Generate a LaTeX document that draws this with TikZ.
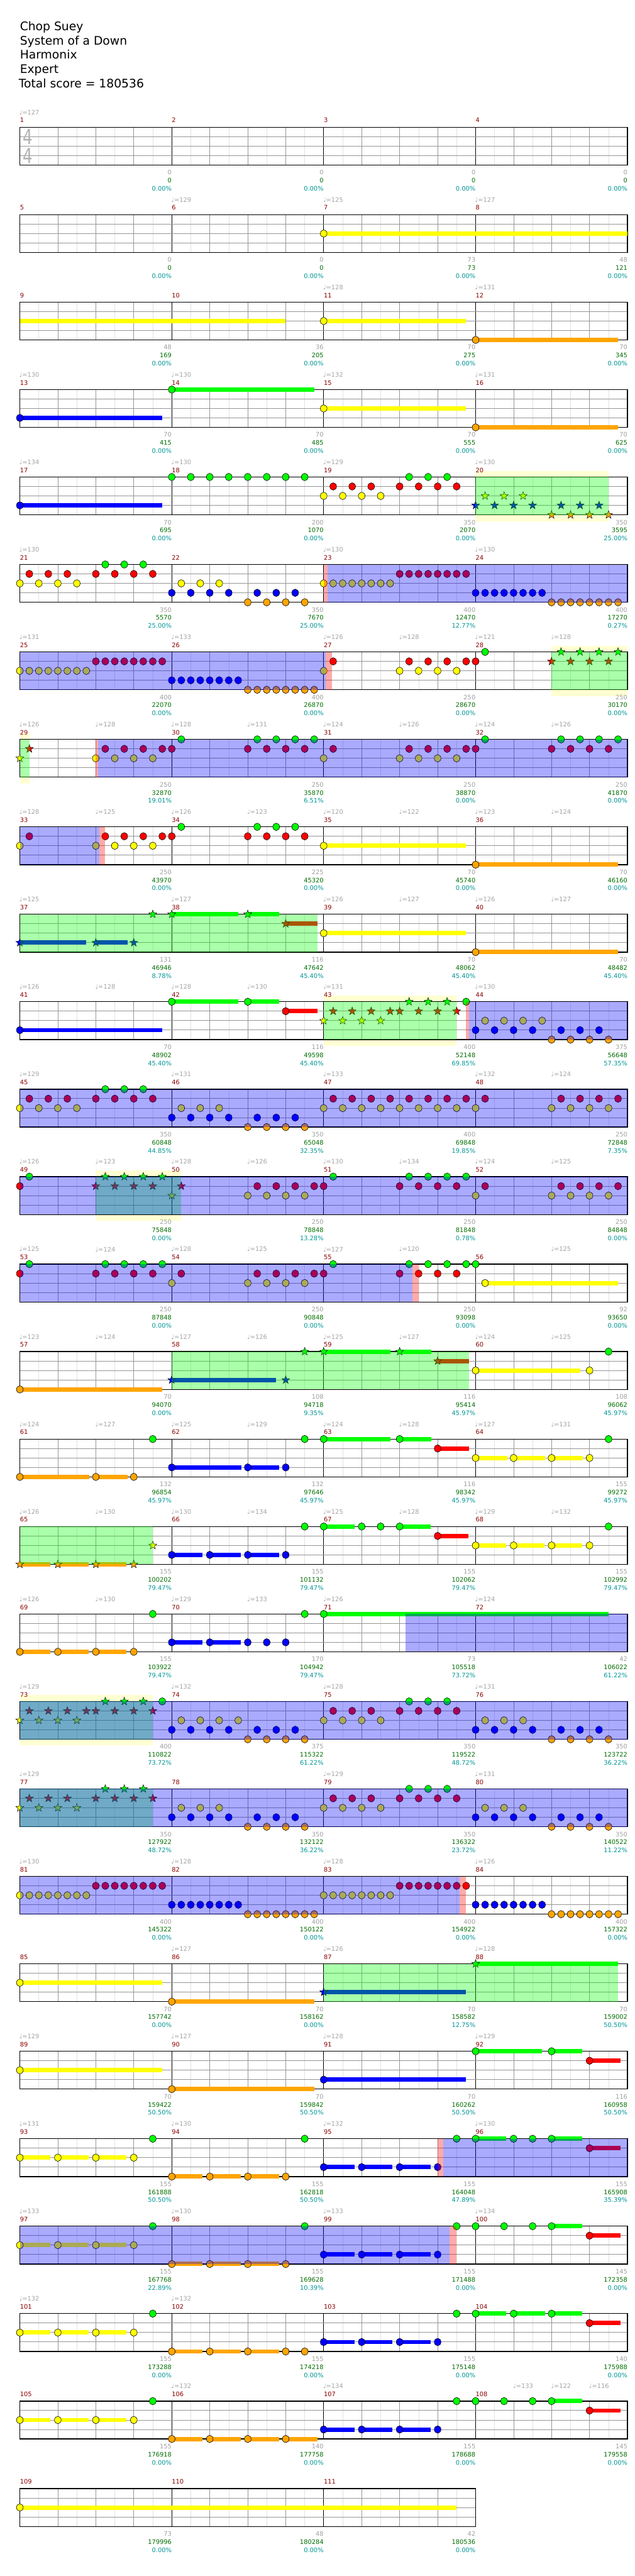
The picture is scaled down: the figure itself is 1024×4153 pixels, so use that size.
\documentclass[tikz,border=0pt]{standalone}
\usepackage{fontspec}
\setmainfont{DejaVu Sans}
\definecolor{lane0}{RGB}{0,255,0}
\definecolor{lane1}{RGB}{255,0,0}
\definecolor{lane2}{RGB}{255,255,0}
\definecolor{lane3}{RGB}{0,0,255}
\definecolor{lane4}{RGB}{255,165,0}
\definecolor{mred}{RGB}{140,0,0}
\definecolor{scgrey}{RGB}{160,160,160}
\definecolor{scgreen}{RGB}{0,110,0}
\definecolor{scteal}{RGB}{0,150,150}
\definecolor{tgrey}{RGB}{165,165,165}
\definecolor{spyellow}{RGB}{255,255,210}
\definecolor{gridlight}{RGB}{225,225,225}
\definecolor{gridmid}{RGB}{150,150,150}
\newcount\nodeid
\newcommand\nextid{\global\advance\nodeid by 1 }
\tikzset{
 row/.style={xshift=32pt,yshift=-#1pt,x=61.25pt,y=-15.25pt},
 lbl/.style={font=\fontsize{10}{12}\selectfont, inner sep=0pt},
 tempo/.style={lbl, text=tgrey, anchor=west, xshift=-1pt, yshift=24pt},
 mnum/.style={lbl, text=mred, anchor=west, yshift=11pt},
 sgrey/.style={lbl, text=scgrey, anchor=east, yshift=-12pt},
 sgreen/.style={lbl, text=scgreen, anchor=east, yshift=-25pt},
 steal/.style={lbl, text=scteal, anchor=east, yshift=-38pt},
 title/.style={anchor=base west, inner sep=0pt, font=\fontsize{19}{22}\selectfont},
 timesig/.style={inner sep=0pt, text=gray!60, font=\fontsize{33}{33}\selectfont, xscale=0.75},
 eighthline/.style={draw=gridlight, line width=0.6pt},
 beatline/.style={draw=gridmid, line width=0.7pt},
 measline/.style={draw=black, line width=0.7pt},
 laneline/.style={draw=gridmid, line width=1pt},
 border/.style={draw=black, line width=1.3pt},
 notehead/.style={draw=black, line width=0.6pt},
}
\newcommand\staff[1]{%
 \fill[white] (0,0) rectangle (#1,4);
 \pgfmathtruncatemacro\nb{#1}%
 \foreach \i in {1,...,\nb}{\draw[eighthline] (\i-0.5,0) -- (\i-0.5,4);}
 \foreach \i in {1,...,\nb}{\draw[beatline] (\i,0) -- (\i,4);}
 \pgfmathtruncatemacro\nm{#1/4-1}%
 \foreach \i in {1,...,\nm}{\draw[measline] (4*\i,0) -- (4*\i,4);}
 \foreach \j in {1,2,3}{\draw[laneline] (0,\j) -- (#1,\j);}
 \draw[border] (0,0) rectangle (#1,4);}
\newcommand\nts[2]{\foreach \bb in {#2}{\path[notehead,fill=lane#1] (\bb,#1) ellipse [x radius=5.4pt,y radius=6pt];}}
\newcommand\nrun[4]{\foreach \ii in {1,...,#4}{\path[notehead,fill=lane#1] ({#2+#3*(\ii-1)},#1) ellipse [x radius=5.4pt,y radius=6pt];}}
\newcommand\sus[3]{\fill[lane#1] (#2,#1-0.23) rectangle (#3,#1+0.23);}
\newcommand\sts[2]{\foreach \bb in {#2}{\path[draw=black,line width=0.5pt,fill=lane#1] (\bb,#1) +(90:6.8pt) -- +(126:2.8pt) -- +(162:6.8pt) -- +(198:2.8pt) -- +(234:6.8pt) -- +(270:2.8pt) -- +(306:6.8pt) -- +(342:2.8pt) -- +(18:6.8pt) -- +(54:2.8pt) -- cycle;}}
\newcommand\odov[2]{\fill[lane3,fill opacity=0.333] (#1,0) rectangle (#2,4);}
\newcommand\spov[2]{\fill[lane0,fill opacity=0.333] (#1,0) rectangle (#2,4);}
\newcommand\pinkov[2]{\fill[lane1,fill opacity=0.333] (#1,0) rectangle (#2,4);}
\newcommand\spbox[2]{\fill[spyellow] (#1,-0.66) rectangle (#2,4.66);}
\newcommand\tp[2]{\nextid\node[tempo] (T\the\nodeid) at (#1,0) {♩=#2};}
\newcommand\mz[5]{%
 \nextid\node[mnum] (M\the\nodeid) at (4*#1,0) {#2};
 \nextid\node[sgrey] (G\the\nodeid) at (4*#1+4,4) {#3};
 \nextid\node[sgreen] (C\the\nodeid) at (4*#1+4,4) {#4};
 \nextid\node[steal] (P\the\nodeid) at (4*#1+4,4) {#5};}
\begin{document}
\begin{tikzpicture}[x=1pt,y=-1pt]
\fill[white] (0,0) rectangle (1024,4153);
\useasboundingbox (0,0) rectangle (1024,4153);
\node[title] (t1) at (32,49) {Chop Suey};
\node[title] (t2) at (32,72) {System of a Down};
\node[title] (t3) at (32,95) {Harmonix};
\node[title] (t4) at (32,118) {Expert};
\node[title] (t5) at (30,141) {Total score = 180536};
% row 1
\begin{scope}[row=205]
\staff{16}
\node[timesig] (ts1) at (0.21,1) {4};
\node[timesig] (ts2) at (0.21,3) {4};
\tp{0}{127}
\mz{0}{1}{0}{0}{0.00\%}\mz{1}{2}{0}{0}{0.00\%}\mz{2}{3}{0}{0}{0.00\%}\mz{3}{4}{0}{0}{0.00\%}
\end{scope}
% row 2
\begin{scope}[row=346]
\staff{16}
\sus{2}{8}{16}\nts{2}{8}
\tp{4}{129}\tp{8}{125}\tp{12}{127}
\mz{0}{5}{0}{0}{0.00\%}\mz{1}{6}{0}{0}{0.00\%}\mz{2}{7}{73}{73}{0.00\%}\mz{3}{8}{48}{121}{0.00\%}
\end{scope}
% row 3
\begin{scope}[row=487]
\staff{16}
\sus{2}{0}{7}\sus{2}{8}{11.75}\sus{4}{12}{15.75}\nts{2}{8}\nts{4}{12}
\tp{8}{128}\tp{12}{131}
\mz{0}{9}{48}{169}{0.00\%}\mz{1}{10}{36}{205}{0.00\%}\mz{2}{11}{70}{275}{0.00\%}\mz{3}{12}{70}{345}{0.00\%}
\end{scope}
% row 4
\begin{scope}[row=628]
\staff{16}
\sus{3}{0}{3.75}\sus{0}{4}{7.75}\sus{2}{8}{11.75}\sus{4}{12}{15.75}
\nts{3}{0}\nts{0}{4}\nts{2}{8}\nts{4}{12}
\tp{0}{130}\tp{4}{130}\tp{8}{132}\tp{12}{131}
\mz{0}{13}{70}{415}{0.00\%}\mz{1}{14}{70}{485}{0.00\%}\mz{2}{15}{70}{555}{0.00\%}\mz{3}{16}{70}{625}{0.00\%}
\end{scope}
% row 5
\begin{scope}[row=769]
\spbox{12}{15.5}
\staff{16}
\sus{3}{0}{3.75}\nts{3}{0}
\nrun{0}{4}{0.5}{8}
\nts{1}{8.25,8.75,9.25,10,10.5,11,11.5}\nrun{2}{8}{0.5}{4}\nts{0}{10.25,10.75,11.25}
\sts{2}{12.25,12.75,13.25}\sts{3}{12,12.5,13,13.5,14.25,14.75,15.25}\sts{4}{14,14.5,15,15.5}
\spov{12}{15.5}
\tp{0}{134}\tp{4}{130}\tp{8}{129}\tp{12}{130}
\mz{0}{17}{70}{695}{0.00\%}\mz{1}{18}{200}{1070}{0.00\%}\mz{2}{19}{350}{2070}{0.00\%}\mz{3}{20}{350}{3595}{25.00\%}
\end{scope}
% row 6
\begin{scope}[row=910]
\staff{16}
\nrun{2}{0}{0.5}{4}\nts{1}{0.25,0.75,1.25}\nrun{1}{2}{0.5}{4}\nts{0}{2.25,2.75,3.25}
\nts{2}{4.25,4.75,5.25}\nrun{3}{4}{0.5}{4}\nts{3}{6.25,6.75,7.25}\nrun{4}{6}{0.5}{4}
\nrun{2}{8}{0.25}{8}\nrun{1}{10}{0.25}{8}\nrun{3}{12}{0.25}{8}\nrun{4}{14}{0.25}{8}
\pinkov{8}{8.1}\odov{8.1}{16}
\tp{0}{130}\tp{8}{130}\tp{12}{130}
\mz{0}{21}{350}{5570}{25.00\%}\mz{1}{22}{350}{7670}{25.00\%}\mz{2}{23}{400}{12470}{12.77\%}\mz{3}{24}{400}{17270}{0.27\%}
\end{scope}
% row 7
\begin{scope}[row=1051]
\spbox{14}{16}
\staff{16}
\nrun{2}{0}{0.25}{8}\nrun{1}{2}{0.25}{8}\nrun{3}{4}{0.25}{8}\nrun{4}{6}{0.25}{8}
\nts{2}{8}\nts{1}{8.25}\nts{1}{10.25,10.75,11.25,11.75,12}\nrun{2}{10}{0.5}{4}\nts{0}{12.25}
\sts{0}{14.25,14.75,15.25,15.75}\sts{1}{14,14.5,15,15.5}
\odov{0}{8.05}\pinkov{8.05}{8.22}\spov{14}{16}
\tp{0}{131}\tp{4}{133}\tp{8}{126}\tp{10}{128}\tp{12}{121}\tp{14}{128}
\mz{0}{25}{400}{22070}{0.00\%}\mz{1}{26}{400}{26870}{0.00\%}\mz{2}{27}{250}{28670}{0.00\%}\mz{3}{28}{250}{30170}{0.00\%}
\end{scope}
% row 8
\begin{scope}[row=1192]
\spbox{0}{0.25}
\staff{16}
\sts{2}{0}\sts{1}{0.25}
\nts{2}{2}\nts{1}{2.25,2.75,3.25,3.75,4}\nts{2}{2.5,3,3.5}\nts{0}{4.25}
\nrun{1}{6}{0.5}{4}\nts{0}{6.25,6.75,7.25,7.75}
\nts{2}{8}\nts{1}{8.25}\nts{1}{10.25,10.75,11.25,11.75,12}\nrun{2}{10}{0.5}{4}\nts{0}{12.25}
\nrun{1}{14}{0.5}{4}\nts{0}{14.25,14.75,15.25,15.75}
\spov{0}{0.25}\pinkov{2}{2.06}\odov{2.06}{16}
\tp{0}{126}\tp{2}{128}\tp{4}{128}\tp{6}{131}\tp{8}{124}\tp{10}{126}\tp{12}{124}\tp{14}{126}
\mz{0}{29}{250}{32870}{19.01\%}\mz{1}{30}{250}{35870}{6.51\%}\mz{2}{31}{250}{38870}{0.00\%}\mz{3}{32}{250}{41870}{0.00\%}
\end{scope}
% row 9
\begin{scope}[row=1333]
\staff{16}
\nts{2}{0}\nts{1}{0.25}\nts{2}{2}\nts{1}{2.25,2.75,3.25,3.75,4}\nts{2}{2.5,3,3.5}\nts{0}{4.25}
\nrun{1}{6}{0.5}{4}\nts{0}{6.25,6.75,7.25}
\sus{2}{8}{11.75}\nts{2}{8}\sus{4}{12}{15.75}\nts{4}{12}
\odov{0}{2.09}\pinkov{2.09}{2.24}
\tp{0}{128}\tp{2}{125}\tp{4}{126}\tp{6}{123}\tp{8}{120}\tp{10}{122}\tp{12}{123}\tp{14}{124}
\mz{0}{33}{250}{43970}{0.00\%}\mz{1}{34}{225}{45320}{0.00\%}\mz{2}{35}{70}{45740}{0.00\%}\mz{3}{36}{70}{46160}{0.00\%}
\end{scope}
% row 10
\begin{scope}[row=1474]
\staff{16}
\sus{3}{0}{1.75}\sus{3}{2}{2.83}\sus{0}{4}{5.75}\sus{0}{6}{6.83}\sus{1}{7}{7.83}
\sts{3}{0,2,3}\sts{0}{3.5,4,6}\sts{1}{7}
\sus{2}{8}{11.75}\nts{2}{8}\sus{4}{12}{15.75}\nts{4}{12}
\spov{0}{7.83}
\tp{0}{125}\tp{4}{127}\tp{8}{126}\tp{10}{127}\tp{12}{126}\tp{14}{127}
\mz{0}{37}{131}{46946}{8.78\%}\mz{1}{38}{116}{47642}{45.40\%}\mz{2}{39}{70}{48062}{45.40\%}\mz{3}{40}{70}{48482}{45.40\%}
\end{scope}
% row 11
\begin{scope}[row=1615]
\spbox{8}{11.5}
\staff{16}
\sus{3}{0}{3.75}\nts{3}{0}\sus{0}{4}{5.75}\sus{0}{6}{6.83}\nts{0}{4,6}\sus{1}{7}{7.83}\nts{1}{7}
\sts{2}{8,8.5,9,9.5}\sts{1}{8.25,8.75,9.25,9.75,10,10.5,11,11.5}\sts{0}{10.25,10.75,11.25}
\nts{0}{11.75}\nts{2}{12.25,12.75,13.25,13.75}\nts{3}{12,12.5,13,13.5,14.25,14.75,15.25}\nrun{4}{14}{0.5}{4}
\spov{8}{11.5}\pinkov{11.75}{11.83}\odov{11.83}{16}
\tp{0}{126}\tp{2}{128}\tp{4}{128}\tp{6}{130}\tp{8}{131}\tp{12}{130}
\mz{0}{41}{70}{48902}{45.40\%}\mz{1}{42}{116}{49598}{45.40\%}\mz{2}{43}{400}{52148}{69.85\%}\mz{3}{44}{375}{56648}{57.35\%}
\end{scope}
% row 12
\begin{scope}[row=1756]
\staff{16}
\nrun{2}{0}{0.5}{4}\nts{1}{0.25,0.75,1.25}\nrun{1}{2}{0.5}{4}\nts{0}{2.25,2.75,3.25}
\nts{2}{4.25,4.75,5.25}\nrun{3}{4}{0.5}{4}\nts{3}{6.25,6.75,7.25}\nrun{4}{6}{0.5}{4}
\nrun{1}{8.25}{0.5}{9}\nrun{2}{8}{0.5}{9}\nrun{1}{14.25}{0.5}{4}\nrun{2}{14}{0.5}{4}
\odov{0}{16}
\tp{0}{129}\tp{4}{131}\tp{8}{133}\tp{12}{132}\tp{14}{124}
\mz{0}{45}{350}{60848}{44.85\%}\mz{1}{46}{350}{65048}{32.35\%}\mz{2}{47}{400}{69848}{19.85\%}\mz{3}{48}{250}{72848}{7.35\%}
\end{scope}
% row 13
\begin{scope}[row=1897]
\spbox{2}{4.25}
\staff{16}
\nts{1}{0}\nts{0}{0.25}
\sts{0}{2.25,2.75,3.25,3.75}\sts{1}{2,2.5,3,3.5,4.25}\sts{2}{4}
\nts{1}{6.25,6.75,7.25,7.75,8}\nrun{2}{6}{0.5}{4}\nts{0}{8.25}
\nts{1}{10,10.5,11,11.5,12.25}\nts{0}{10.25,10.75,11.25,11.75}\nts{2}{12}
\nrun{1}{14.25}{0.5}{4}\nrun{2}{14}{0.5}{4}
\spov{2}{4.25}\odov{0}{16}
\tp{0}{126}\tp{2}{123}\tp{4}{128}\tp{6}{126}\tp{8}{130}\tp{10}{134}\tp{12}{124}\tp{14}{125}
\mz{0}{49}{250}{75848}{0.00\%}\mz{1}{50}{250}{78848}{13.28\%}\mz{2}{51}{250}{81848}{0.78\%}\mz{3}{52}{250}{84848}{0.00\%}
\end{scope}
% row 14
\begin{scope}[row=2038]
\staff{16}
\nts{1}{0}\nts{0}{0.25}\nts{0}{2.25,2.75,3.25,3.75}\nts{1}{2,2.5,3,3.5,4.25}\nts{2}{4}
\nts{1}{6.25,6.75,7.25,7.75,8}\nrun{2}{6}{0.5}{4}\nts{0}{8.25}
\nts{1}{10}\nts{0}{10.25}\nts{1}{10.5,11,11.5}\nts{0}{10.75,11.25,11.75,12}
\sus{2}{12.25}{15.75}\nts{2}{12.25}
\odov{0}{10.33}\pinkov{10.33}{10.5}
\tp{0}{125}\tp{2}{124}\tp{4}{128}\tp{6}{125}\tp{8}{127}\tp{10}{120}\tp{14}{125}
\mz{0}{53}{250}{87848}{0.00\%}\mz{1}{54}{250}{90848}{0.00\%}\mz{2}{55}{250}{93098}{0.00\%}\mz{3}{56}{92}{93650}{0.00\%}
\end{scope}
% row 15
\begin{scope}[row=2179]
\staff{16}
\sus{4}{0}{3.75}\nts{4}{0}
\sus{3}{4}{6.75}\sts{3}{4,7}\sts{0}{7.5}
\sus{0}{8}{9.75}\sus{0}{10}{10.83}\sts{0}{8,10}\sus{1}{11}{11.83}\sts{1}{11}
\sus{2}{12}{14.75}\nts{2}{12,15}\nts{0}{15.5}
\spov{4}{11.83}
\tp{0}{123}\tp{2}{124}\tp{4}{127}\tp{6}{126}\tp{8}{125}\tp{10}{127}\tp{12}{124}\tp{14}{125}
\mz{0}{57}{70}{94070}{0.00\%}\mz{1}{58}{108}{94718}{9.35\%}\mz{2}{59}{116}{95414}{45.97\%}\mz{3}{60}{108}{96062}{45.97\%}
\end{scope}
% row 16
\begin{scope}[row=2320]
\staff{16}
\sus{4}{0}{1.83}\sus{4}{2}{2.83}\nts{4}{0,2,3}\nts{0}{3.5}
\sus{3}{4}{5.83}\sus{3}{6}{6.83}\nts{3}{4,6,7}\nts{0}{7.5}
\sus{0}{8}{9.75}\sus{0}{10}{10.83}\nts{0}{8,10}\sus{1}{11}{11.83}\nts{1}{11}
\sus{2}{12}{12.83}\sus{2}{13}{13.83}\sus{2}{14}{14.83}\nts{2}{12,13,14,15}\nts{0}{15.5}
\tp{0}{124}\tp{2}{127}\tp{4}{125}\tp{6}{129}\tp{8}{124}\tp{10}{128}\tp{12}{127}\tp{14}{131}
\mz{0}{61}{132}{96854}{45.97\%}\mz{1}{62}{132}{97646}{45.97\%}\mz{2}{63}{116}{98342}{45.97\%}\mz{3}{64}{155}{99272}{45.97\%}
\end{scope}
% row 17
\begin{scope}[row=2461]
\staff{16}
\sus{4}{0}{0.81}\sus{4}{1}{1.81}\sus{4}{2}{2.81}\sts{4}{0,1,2,3}\sts{2}{3.5}
\sus{3}{4}{4.81}\sus{3}{5}{5.81}\sus{3}{6}{6.82}\nts{3}{4,5,6,7}\nts{0}{7.5}
\sus{0}{8}{8.81}\sus{0}{10}{10.81}\nts{0}{8,9,9.5,10}\sus{1}{11}{11.81}\nts{1}{11}
\sus{2}{12}{12.81}\sus{2}{13}{13.81}\sus{2}{14}{14.81}\nts{2}{12,13,14,15}\nts{0}{15.5}
\spov{0}{3.5}
\tp{0}{126}\tp{2}{130}\tp{4}{130}\tp{6}{134}\tp{8}{125}\tp{10}{128}\tp{12}{129}\tp{14}{132}
\mz{0}{65}{155}{100202}{79.47\%}\mz{1}{66}{155}{101132}{79.47\%}\mz{2}{67}{155}{102062}{79.47\%}\mz{3}{68}{155}{102992}{79.47\%}
\end{scope}
% row 18
\begin{scope}[row=2602]
\staff{16}
\sus{4}{0}{0.81}\sus{4}{1}{1.81}\sus{4}{2}{2.81}\nts{4}{0,1,2,3}\nts{0}{3.5}
\sus{3}{4}{4.81}\sus{3}{5}{5.81}\nts{3}{4,5,6,6.5,7}\nts{0}{7.5}
\sus{0}{8}{15.5}\nts{0}{8}
\odov{10.15}{16}
\tp{0}{126}\tp{2}{130}\tp{4}{129}\tp{6}{133}\tp{8}{126}\tp{12}{124}
\mz{0}{69}{155}{103922}{79.47\%}\mz{1}{70}{170}{104942}{79.47\%}\mz{2}{71}{73}{105518}{73.72\%}\mz{3}{72}{42}{106022}{61.22\%}
\end{scope}
% row 19
\begin{scope}[row=2743]
\spbox{0}{3.5}
\staff{16}
\sts{0}{2.25,2.75,3.25}\sts{1}{0.25,0.75,1.25,1.75,2,2.5,3,3.5}\sts{2}{0,0.5,1,1.5}
\nts{0}{3.75}\nts{2}{4.25,4.75,5.25,5.75}\nrun{3}{4}{0.5}{4}\nts{3}{6.25,6.75,7.25}\nrun{4}{6}{0.5}{4}
\nts{1}{8.25,8.75,9.25,10,10.5,11,11.5}\nts{0}{10.25,10.75,11.25}\nrun{2}{8}{0.5}{4}
\nts{2}{12.25,12.75,13.25}\nrun{3}{12}{0.5}{4}\nts{3}{14.25,14.75,15.25}\nrun{4}{14}{0.5}{4}
\spov{0}{3.5}\odov{0}{16}
\tp{0}{129}\tp{4}{132}\tp{8}{128}\tp{12}{131}
\mz{0}{73}{400}{110822}{73.72\%}\mz{1}{74}{375}{115322}{61.22\%}\mz{2}{75}{350}{119522}{48.72\%}\mz{3}{76}{350}{123722}{36.22\%}
\end{scope}
% row 20
\begin{scope}[row=2884]
\staff{16}
\sts{0}{2.25,2.75,3.25}\sts{1}{0.25,0.75,1.25,2,2.5,3,3.5}\sts{2}{0,0.5,1,1.5}
\nts{2}{4.25,4.75,5.25}\nrun{3}{4}{0.5}{4}\nts{3}{6.25,6.75,7.25}\nrun{4}{6}{0.5}{4}
\nts{1}{8.25,8.75,9.25,10,10.5,11,11.5}\nts{0}{10.25,10.75,11.25}\nrun{2}{8}{0.5}{4}
\nts{2}{12.25,12.75,13.25}\nrun{3}{12}{0.5}{4}\nts{3}{14.25,14.75,15.25}\nrun{4}{14}{0.5}{4}
\spov{0}{3.5}\odov{0}{16}
\tp{0}{129}\tp{8}{129}\tp{12}{131}
\mz{0}{77}{350}{127922}{48.72\%}\mz{1}{78}{350}{132122}{36.22\%}\mz{2}{79}{350}{136322}{23.72\%}\mz{3}{80}{350}{140522}{11.22\%}
\end{scope}
% row 21
\begin{scope}[row=3025]
\staff{16}
\nrun{2}{0}{0.25}{8}\nrun{1}{2}{0.25}{8}\nrun{3}{4}{0.25}{8}\nrun{4}{6}{0.25}{8}
\nrun{2}{8}{0.25}{8}\nrun{1}{10}{0.25}{8}\nrun{3}{12}{0.25}{8}\nrun{4}{14}{0.25}{8}
\odov{0}{11.58}\pinkov{11.58}{11.75}
\tp{0}{130}\tp{4}{128}\tp{8}{128}\tp{12}{126}
\mz{0}{81}{400}{145322}{0.00\%}\mz{1}{82}{400}{150122}{0.00\%}\mz{2}{83}{400}{154922}{0.00\%}\mz{3}{84}{400}{157322}{0.00\%}
\end{scope}
% row 22
\begin{scope}[row=3166]
\staff{16}
\sus{2}{0}{3.75}\nts{2}{0}\sus{4}{4}{7.75}\nts{4}{4}
\sus{3}{8}{11.75}\sts{3}{8}\sus{0}{12}{15.75}\sts{0}{12}
\spov{8}{15.75}
\tp{4}{127}\tp{8}{126}\tp{12}{128}
\mz{0}{85}{70}{157742}{0.00\%}\mz{1}{86}{70}{158162}{0.00\%}\mz{2}{87}{70}{158582}{12.75\%}\mz{3}{88}{70}{159002}{50.50\%}
\end{scope}
% row 23
\begin{scope}[row=3307]
\staff{16}
\sus{2}{0}{3.75}\nts{2}{0}\sus{4}{4}{7.75}\nts{4}{4}\sus{3}{8}{11.75}\nts{3}{8}
\sus{0}{12}{13.75}\sus{0}{14}{14.81}\nts{0}{12,14}\sus{1}{15}{15.81}\nts{1}{15}
\tp{0}{129}\tp{4}{127}\tp{8}{128}\tp{12}{129}
\mz{0}{89}{70}{159422}{50.50\%}\mz{1}{90}{70}{159842}{50.50\%}\mz{2}{91}{70}{160262}{50.50\%}\mz{3}{92}{116}{160958}{50.50\%}
\end{scope}
% row 24
\begin{scope}[row=3448]
\staff{16}
\sus{2}{0}{0.81}\sus{2}{1}{1.81}\sus{2}{2}{2.81}\nts{2}{0,1,2,3}\nts{0}{3.5}
\sus{4}{4}{4.81}\sus{4}{5}{5.81}\sus{4}{6}{6.82}\nts{4}{4,5,6,7}\nts{0}{7.5}
\sus{3}{8}{8.81}\sus{3}{9}{9.81}\sus{3}{10}{10.81}\nts{3}{8,9,10,11}
\sus{0}{12}{12.81}\sus{0}{14}{14.81}\nts{0}{11.5,12,13,13.5,14}\sus{1}{15}{15.81}\nts{1}{15}
\pinkov{11}{11.15}\odov{11.15}{16}
\tp{0}{131}\tp{4}{130}\tp{8}{132}\tp{12}{130}
\mz{0}{93}{155}{161888}{50.50\%}\mz{1}{94}{155}{162818}{50.50\%}\mz{2}{95}{155}{164048}{47.89\%}\mz{3}{96}{155}{165908}{35.39\%}
\end{scope}
% row 25
\begin{scope}[row=3589]
\staff{16}
\sus{2}{0}{0.81}\sus{2}{1}{1.81}\sus{2}{2}{2.81}\nts{2}{0,1,2,3}\nts{0}{3.5}
\sus{4}{4}{4.81}\sus{4}{5}{5.81}\sus{4}{6}{6.82}\nts{4}{4,5,6,7}\nts{0}{7.5}
\sus{3}{8}{8.81}\sus{3}{9}{9.81}\sus{3}{10}{10.81}\nts{3}{8,9,10,11}
\sus{0}{14}{14.81}\nts{0}{11.5,12,12.75,13.5,14}\sus{1}{15}{15.81}\nts{1}{15}
\odov{0}{11.31}\pinkov{11.31}{11.5}
\tp{0}{133}\tp{4}{130}\tp{8}{133}\tp{12}{134}
\mz{0}{97}{155}{167768}{22.89\%}\mz{1}{98}{155}{169628}{10.39\%}\mz{2}{99}{155}{171488}{0.00\%}\mz{3}{100}{145}{172358}{0.00\%}
\end{scope}
% row 26
\begin{scope}[row=3730]
\staff{16}
\sus{2}{0}{0.81}\sus{2}{1}{1.81}\sus{2}{2}{2.81}\nts{2}{0,1,2,3}\nts{0}{3.5}
\sus{4}{4}{4.81}\sus{4}{5}{5.81}\sus{4}{6}{6.82}\nts{4}{4,5,6,7,7.5}
\sus{3}{8}{8.81}\sus{3}{9}{9.81}\sus{3}{10}{10.81}\nts{3}{8,9,10,11}
\sus{0}{12}{12.81}\sus{0}{13}{13.83}\sus{0}{14}{14.81}\nts{0}{11.5,12,13,14}\sus{1}{15}{15.81}\nts{1}{15}
\tp{0}{132}\tp{4}{132}
\mz{0}{101}{155}{173288}{0.00\%}\mz{1}{102}{155}{174218}{0.00\%}\mz{2}{103}{155}{175148}{0.00\%}\mz{3}{104}{140}{175988}{0.00\%}
\end{scope}
% row 27
\begin{scope}[row=3871]
\staff{16}
\sus{2}{0}{0.81}\sus{2}{1}{1.81}\sus{2}{2}{2.81}\nts{2}{0,1,2,3}\nts{0}{3.5}
\sus{4}{4}{4.81}\sus{4}{5}{5.81}\sus{4}{6}{6.82}\sus{4}{7}{7.83}\nts{4}{4,5,6,7}
\sus{3}{8}{8.81}\sus{3}{9}{9.81}\sus{3}{10}{10.81}\nts{3}{8,9,10,11}
\sus{0}{14}{14.81}\nts{0}{11.5,12,12.75,13.5,14}\sus{1}{15}{15.81}\nts{1}{15}
\tp{4}{132}\tp{8}{134}\tp{13}{133}\tp{14}{122}\tp{15}{116}
\mz{0}{105}{155}{176918}{0.00\%}\mz{1}{106}{140}{177758}{0.00\%}\mz{2}{107}{155}{178688}{0.00\%}\mz{3}{108}{145}{179558}{0.00\%}
\end{scope}
% row 28
\begin{scope}[row=4012]
\staff{12}
\sus{2}{0}{11.5}\nts{2}{0}
\mz{0}{109}{73}{179996}{0.00\%}\mz{1}{110}{48}{180284}{0.00\%}\mz{2}{111}{42}{180536}{0.00\%}
\end{scope}
\end{tikzpicture}
\end{document}
